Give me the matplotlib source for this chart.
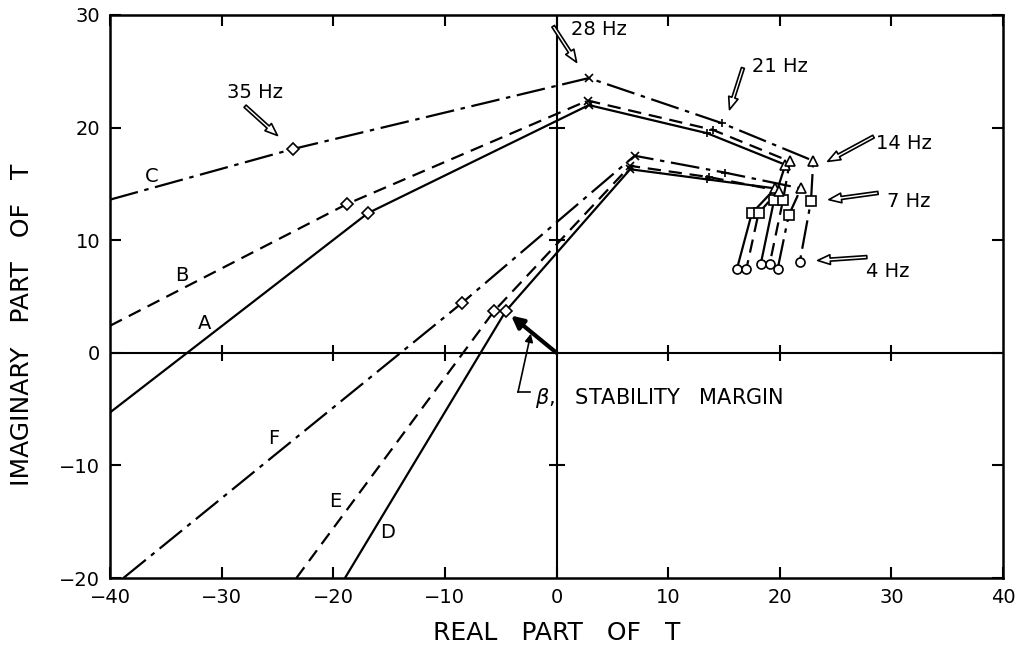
import numpy as np
import matplotlib.pyplot as plt

# =========================
# DATA
# =========================

# frequency points along each locus: 35, 28, 21, 14, 7, 4 Hz
freqs = [35, 28, 21, 14, 7, 4]
freq_markers = ["D", "x", "+", "^", "s", "o"]

real_A = [-16.9, 2.9, 13.5, 20.5, 19.5, 18.3]
imag_A = [12.4, 22.0, 19.5, 16.7, 13.6, 7.9]

real_B = [-18.8, 2.8, 14.0, 20.9, 20.3, 19.1]
imag_B = [13.2, 22.4, 19.8, 17.0, 13.6, 7.9]

real_C = [-23.6, 2.9, 14.8, 23.0, 22.8, 21.8]
imag_C = [18.1, 24.4, 20.4, 17.05, 13.5, 8.1]

real_D = [-4.55, 6.6, 13.5, 19.6, 17.5, 16.15]
imag_D = [3.7, 16.3, 15.4, 14.6, 12.4, 7.4]

real_E = [-5.6, 6.6, 13.7, 19.9, 18.1, 17.0]
imag_E = [3.7, 16.6, 15.6, 14.4, 12.4, 7.4]

real_F = [-8.5, 7.0, 15.1, 21.9, 20.8, 19.8]
imag_F = [4.4, 17.5, 16.0, 14.6, 12.2, 7.4]

# where each locus leaves the frame (higher frequency end)
edge_real = {"A": -40, "B": -40, "C": -40, "D": -18.95, "E": -23.3, "F": -38.8}
edge_imag = {"A": -5.3, "B": 2.4, "C": 13.6, "D": -20, "E": -20, "F": -20}

# curve letter label positions
label_pos = {"A": (-31.5, 2.6), "B": (-33.6, 6.9), "C": (-36.3, 15.7),
             "D": (-15.1, -16.0), "E": (-19.8, -13.2), "F": (-25.3, -7.6)}

x_ticks = [-40, -30, -20, -10, 0, 10, 20, 30, 40]
y_ticks = [-20, -10, 0, 10, 20, 30]

# frequency callouts: text position, arrow tail, arrow tip
hz_text = ["35 Hz", "28 Hz", "21 Hz", "14 Hz", "7 Hz", "4 Hz"]
hz_text_xy = [(-27.0, 23.1), (3.8, 28.7), (20.0, 25.4), (31.1, 18.6), (31.6, 13.4), (29.7, 7.2)]
hz_tail = [(-27.9, 21.9), (-0.3, 29.0), (16.7, 25.3), (28.4, 19.2), (28.8, 14.2), (27.8, 8.5)]
hz_tip = [(-25.0, 19.3), (1.8, 25.8), (15.5, 21.6), (24.3, 17.0), (24.4, 13.6), (23.4, 8.2)]

# =========================
# STYLES
# =========================

solid = "-"
dashed = (0, (6, 3.5))
dashdot = (0, (13, 3, 2, 3))

curves = [
    ("A", real_A, imag_A, solid),
    ("B", real_B, imag_B, dashed),
    ("C", real_C, imag_C, dashdot),
    ("D", real_D, imag_D, solid),
    ("E", real_E, imag_E, dashed),
    ("F", real_F, imag_F, dashdot),
]

plt.rcParams["font.family"] = ["DejaVu Sans"]

fig = plt.figure(figsize=(10.16, 6.55), dpi=100)
ax = fig.add_axes([110 / 1016, 77 / 655, 893 / 1016, 563 / 655])

# =========================
# CURVES
# =========================

for name, xs, ys, ls in curves:
    lx = [edge_real[name]] + xs
    ly = [edge_imag[name]] + ys
    ax.plot(lx, ly, color="k", lw=1.6, linestyle=ls, zorder=3)
    for xv, yv, m in zip(xs, ys, freq_markers):
        ms = 6 if m in ("x", "+") else 6.5
        ax.plot(xv, yv, marker=m, ms=ms, mfc="white", mec="k", mew=1.2,
                linestyle="none", zorder=4)
    tx, ty = label_pos[name]
    ax.text(tx, ty, name, fontsize=14, ha="center", va="center")

# =========================
# AXES, ZERO LINES
# =========================

ax.set_xlim(-40, 40)
ax.set_ylim(-20, 30)
ax.axhline(0, color="k", lw=1.5, zorder=2)
ax.axvline(0, color="k", lw=1.5, zorder=2)

# cross ticks on the zero lines
for xv in x_ticks[1:-1]:
    if xv != 0:
        ax.plot(xv, 0, marker="|", ms=11, mew=1.5, color="k", zorder=2)
for yv in y_ticks[1:-1]:
    if yv != 0:
        ax.plot(0, yv, marker="_", ms=11, mew=1.5, color="k", zorder=2)

ax.set_xticks(x_ticks)
ax.set_yticks(y_ticks)
ax.tick_params(direction="in", length=8, width=1.5, top=True, right=True,
               labelsize=14, pad=7)
for s in ax.spines.values():
    s.set_linewidth(1.8)

ax.set_xlabel("REAL   PART   OF   T", fontsize=18, va="center")
ax.set_ylabel("IMAGINARY   PART   OF   T", fontsize=18, va="center")
ax.xaxis.set_label_coords(0.5, -0.098)
ax.yaxis.set_label_coords(-0.098, 0.45)

# =========================
# ANNOTATIONS
# =========================

hollow = dict(arrowstyle="simple,head_length=0.9,head_width=0.7,tail_width=0.22",
              fc="white", ec="k", lw=1.2, shrinkA=0, shrinkB=0)
for txt, txy, tail, tip in zip(hz_text, hz_text_xy, hz_tail, hz_tip):
    ax.annotate("", xy=tip, xytext=tail, arrowprops=hollow, zorder=5)
    ax.text(txy[0], txy[1], txt, fontsize=14, ha="center", va="center")

# stability margin vector from origin to D at 35 Hz
ax.annotate("", xy=(real_D[0], imag_D[0]), xytext=(0, 0),
            arrowprops=dict(arrowstyle="-|>", lw=3, color="k", mutation_scale=18,
                            shrinkA=0, shrinkB=5), zorder=5)
ax.annotate("", xy=(-2.3, 1.7), xytext=(-3.45, -3.5),
            arrowprops=dict(arrowstyle="-|>", lw=1.2, color="k", mutation_scale=12,
                            shrinkA=0, shrinkB=0))
ax.plot([-3.45, -2.4], [-3.5, -3.5], color="k", lw=1.2)
ax.text(-1.9, -4.0, r"$\beta$,   STABILITY   MARGIN", fontsize=15, ha="left", va="center")

fig.savefig("out.png", dpi=100)
